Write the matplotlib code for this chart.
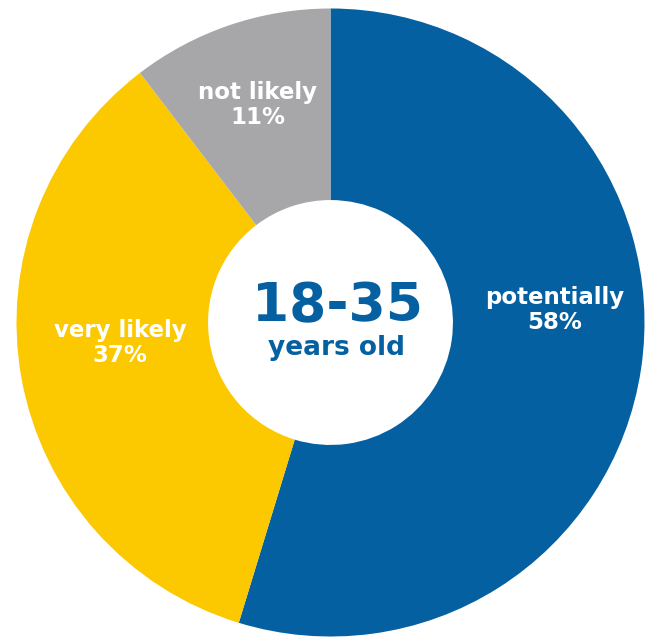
import matplotlib.pyplot as plt

labels = ['potentially', 'very likely', 'not likely']
values = [58, 37, 11]
colors = ['#0560a2', '#fcc800', '#a7a7aa']
label_pos = [(0.715, 0.04), (-0.67, -0.065), (-0.231, 0.693)]

fig = plt.figure(figsize=(6.51, 6.39), dpi=100)
ax = fig.add_axes([16.5 / 651, 2.5 / 639, 628 / 651, 628 / 639])

ax.pie(values, colors=colors, startangle=90, counterclock=False, radius=1,
       wedgeprops=dict(width=0.61, edgecolor='none'))
ax.set_xlim(-1, 1)
ax.set_ylim(-1, 1)
ax.axis('off')

for lab, v, (x, y) in zip(labels, values, label_pos):
    ax.text(x, y, f'{lab}\n{v}%', ha='center', va='center', color='white',
            fontsize=16.5, fontweight='bold', linespacing=1.08)

ax.text(0.021, 0.053, '18-35', ha='center', va='center', color='#0560a2',
        fontsize=38.5, fontweight='bold')
ax.text(0.018, -0.08, 'years old', ha='center', va='center', color='#0560a2',
        fontsize=19, fontweight='bold')

fig.savefig('out.png', dpi=100)
